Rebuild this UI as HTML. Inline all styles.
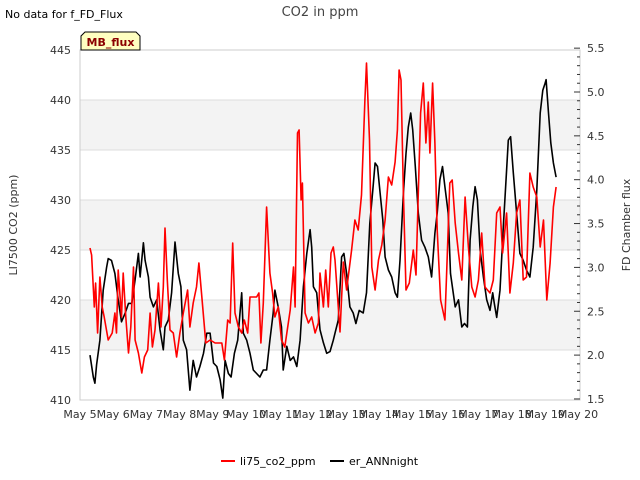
<!DOCTYPE html>
<html><head><meta charset="utf-8"><style>
body{margin:0;background:#fff;font-family:"DejaVu Sans","Liberation Sans",sans-serif}
svg{display:block}
text{font-family:"DejaVu Sans","Liberation Sans",sans-serif}
</style></head><body>
<svg id="c" width="640" height="480" xmlns="http://www.w3.org/2000/svg"></svg>
<script>
const xTickLabels=["May 5","May 6","May 7","May 8","May 9","May 10","May 11","May 12","May 13","May 14","May 15","May 16","May 17","May 18","May 19","May 20"];
const leftTicks=[410,415,420,425,430,435,440,445];
const rightTicks=[1.5,2.0,2.5,3.0,3.5,4.0,4.5,5.0,5.5];
const redT=[0.30,0.35,0.43,0.47,0.53,0.60,0.67,0.73,0.85,0.97,1.05,1.10,1.15,1.25,1.30,1.38,1.46,1.53,1.61,1.66,1.76,1.86,1.94,2.04,2.11,2.18,2.26,2.36,2.44,2.51,2.56,2.63,2.71,2.81,2.91,3.01,3.11,3.24,3.31,3.41,3.51,3.58,3.66,3.79,3.92,4.07,4.27,4.35,4.45,4.52,4.60,4.67,4.77,4.87,4.95,5.05,5.12,5.22,5.32,5.39,5.45,5.52,5.62,5.72,5.80,5.87,5.97,6.07,6.17,6.33,6.43,6.48,6.55,6.60,6.66,6.70,6.78,6.88,6.98,7.08,7.18,7.23,7.33,7.40,7.48,7.56,7.63,7.68,7.83,7.93,8.03,8.18,8.28,8.38,8.48,8.58,8.63,8.72,8.79,8.89,8.99,9.09,9.19,9.29,9.39,9.49,9.56,9.61,9.67,9.74,9.82,9.92,10.04,10.12,10.19,10.26,10.34,10.42,10.49,10.54,10.62,10.69,10.76,10.86,10.99,11.04,11.14,11.21,11.30,11.40,11.50,11.60,11.70,11.80,11.90,12.00,12.10,12.20,12.35,12.45,12.55,12.65,12.73,12.85,12.95,13.05,13.15,13.25,13.35,13.45,13.55,13.65,13.76,13.86,13.96,14.06,14.16,14.26,14.34];
const redV=[425.2,424.5,419.3,421.7,416.7,422.3,419.3,418.3,416,416.7,418.7,416.7,423,418.3,422.7,418.3,414.7,417.3,423.3,416,414.7,412.7,414.3,415,418.7,415.3,417,421.7,417.3,421.3,427.2,422,417,416.7,414.3,416.7,418.7,421,417.3,419.7,421.3,423.7,420.7,415.7,416,415.7,415.7,414,418,417.7,425.7,418.7,417.3,416.7,418,416.7,420.3,420.3,420.3,420.7,415.7,419.7,429.3,422.7,420.7,418.3,419.3,416,415.3,419,423.3,419.3,436.7,437,430,431.7,418.7,417.7,418.3,416.7,417.7,422.7,419.3,423,419.3,424.7,425.3,424,416.8,423.8,421,425,428,427,430.5,440,443.7,436,423.3,421,424,425.5,428,432.3,431.5,433.8,437,443,442,430.7,421,421.7,425,422.5,430.7,438.7,441.7,435.7,439.8,434.7,441.7,435.7,427,420,418,422.3,431.7,432,427.7,424.7,422,430.3,425.3,421.3,420.3,422,426.7,421.3,420.7,422,428.7,429.3,424.7,428.7,420.7,423.7,428.7,430,422,422.3,432.7,431.3,430.3,425.3,428,420,423.7,429.3,431.3];
const blackT=[0.30,0.40,0.45,0.50,0.60,0.70,0.80,0.85,0.95,1.05,1.15,1.25,1.36,1.46,1.56,1.66,1.76,1.81,1.91,1.96,2.06,2.11,2.21,2.31,2.41,2.51,2.56,2.66,2.76,2.86,2.96,3.04,3.11,3.21,3.31,3.41,3.51,3.61,3.72,3.82,3.92,4.02,4.12,4.22,4.30,4.37,4.47,4.55,4.65,4.75,4.87,4.92,5.02,5.12,5.22,5.32,5.42,5.52,5.62,5.72,5.82,5.87,5.97,6.07,6.12,6.23,6.33,6.43,6.53,6.63,6.73,6.83,6.93,6.98,7.03,7.13,7.23,7.33,7.43,7.53,7.63,7.68,7.78,7.88,7.95,8.03,8.13,8.23,8.31,8.41,8.53,8.63,8.73,8.82,8.89,8.96,9.04,9.12,9.19,9.29,9.39,9.49,9.56,9.64,9.74,9.82,9.89,9.96,10.02,10.10,10.19,10.29,10.39,10.49,10.59,10.69,10.76,10.84,10.92,10.99,11.09,11.16,11.30,11.40,11.50,11.58,11.67,11.75,11.83,11.90,11.97,12.05,12.15,12.25,12.35,12.43,12.48,12.55,12.65,12.75,12.85,12.90,12.97,13.05,13.15,13.25,13.35,13.45,13.55,13.65,13.76,13.86,13.94,14.01,14.04,14.11,14.18,14.26,14.34];
const blackV=[2.0,1.75,1.68,1.89,2.17,2.74,3.0,3.1,3.08,2.93,2.63,2.38,2.48,2.59,2.59,2.86,3.16,2.89,3.28,3.08,2.89,2.66,2.55,2.63,2.29,2.06,2.32,2.4,2.71,3.29,2.93,2.78,2.17,2.06,1.6,1.94,1.75,1.87,2.02,2.25,2.25,1.91,1.87,1.72,1.51,1.94,1.79,1.75,2.02,2.17,2.71,2.25,2.17,2.02,1.83,1.79,1.75,1.83,1.83,2.17,2.48,2.74,2.55,2.32,1.83,2.1,1.94,1.98,1.87,2.17,2.78,3.16,3.43,3.23,2.78,2.71,2.29,2.14,2.02,2.04,2.17,2.25,2.4,3.12,3.16,2.93,2.55,2.48,2.36,2.51,2.48,2.71,3.5,3.88,4.19,4.15,3.85,3.54,3.12,2.97,2.89,2.71,2.66,3.08,3.85,4.3,4.6,4.76,4.57,4.15,3.62,3.31,3.23,3.12,2.89,3.39,3.62,4.0,4.15,3.92,3.62,2.93,2.55,2.63,2.32,2.36,2.32,3.31,3.69,3.92,3.77,3.2,2.89,2.63,2.51,2.71,2.59,2.43,2.74,3.46,4.11,4.45,4.49,4.08,3.62,3.16,3.08,2.97,2.89,3.23,3.88,4.76,5.02,5.1,5.14,4.76,4.42,4.19,4.03];

const NS="http://www.w3.org/2000/svg";
const svg=document.getElementById('c');
const L=80,R=580,T=50,B=400;
const X=t=>L+t*33.2;
const YL=v=>T+(445-v)*10;
const YR=v=>92+(5-v)*87.7;
function mk(tag,attrs,parent){const e=document.createElementNS(NS,tag);for(const k in attrs)e.setAttribute(k,attrs[k]);(parent||svg).appendChild(e);return e;}
function txt(s,attrs,parent){const e=mk('text',attrs,parent);e.textContent=s;return e;}

let g=mk('g',{});


mk('rect',{x:L,y:T,width:R-L,height:B-T,fill:'#fff'},g);
[[440,435],[430,425],[420,415]].forEach(b=>{mk('rect',{x:L,y:YL(b[0]),width:R-L,height:YL(b[1])-YL(b[0]),fill:'#f3f3f3'},g);});
leftTicks.forEach(v=>{mk('line',{x1:L,x2:R,y1:YL(v),y2:YL(v),stroke:'#dcdcdc','stroke-width':1},g);});
mk('rect',{x:L,y:T,width:R-L,height:B-T,fill:'none',stroke:'#cccccc'},g);

let ax=mk('g',{});


leftTicks.forEach(v=>{txt(String(v),{x:71,y:YL(v)+4,'text-anchor':'end','font-size':11,fill:'#333'},ax);});
let xa=mk('g',{});


xTickLabels.forEach((s,i)=>{txt(s,{x:X(i),y:418,'text-anchor':'middle','font-size':11,fill:'#333'},xa);});
let ra=mk('g',{});


for(let k=15;k<=55;k++){const v=k/10;const major=k%5===0;mk('line',{x1:R-(major?0:0),x2:R-(major?6:3)+ (major?0:0),y1:YR(v),y2:YR(v),stroke:'#333'},ra);}
rightTicks.forEach(v=>{txt(v.toFixed(1),{x:587,y:YR(v)+4,'font-size':11,fill:'#333'},ra);});

function line(ts,vs,yf,color,name){const p=ts.map((t,i)=>(i?'L':'M')+X(t).toFixed(1)+','+yf(vs[i]).toFixed(1)).join('');const e=mk('path',{d:p,fill:'none',stroke:color,'stroke-width':1.6,'stroke-linejoin':'round'});}
line(blackT,blackV,YR,'#000','er-annnight-line');
line(redT,redV,YL,'#ff0000','li75-co2-line');

let t1=txt('CO2 in ppm',{x:320,y:16,'text-anchor':'middle','font-size':13,fill:'#444'});

let t2=txt('No data for f_FD_Flux',{x:5,y:18,'font-size':11,fill:'#000'});

let mb=mk('g',{});

mk('path',{d:'M81,50 L81,36 L85,32 L136,32 L140,36 L140,50 Z',fill:'#ffffc0',stroke:'#000','stroke-width':1},mb);
txt('MB_flux',{x:110.5,y:46,'text-anchor':'middle','font-size':11,'font-weight':'bold',fill:'#8b0000'},mb);
let yl=txt('LI7500 CO2 (ppm)',{x:17,y:225,'text-anchor':'middle','font-size':11,fill:'#333',transform:'rotate(-90 17 225)'});

let yr=txt('FD Chamber flux',{x:630,y:225,'text-anchor':'middle','font-size':11,fill:'#333',transform:'rotate(-90 630 225)'});

let lg=mk('g',{});

let e1=mk('g',{},lg);
mk('line',{x1:221,x2:235,y1:461,y2:461,stroke:'#ff0000','stroke-width':2},e1);
txt('li75_co2_ppm',{x:240,y:465,'font-size':11,fill:'#000'},e1);
let e2=mk('g',{},lg);
mk('line',{x1:330,x2:344,y1:461,y2:461,stroke:'#000','stroke-width':2},e2);
txt('er_ANNnight',{x:349,y:465,'font-size':11,fill:'#000'},e2);
</script>
</body></html>
